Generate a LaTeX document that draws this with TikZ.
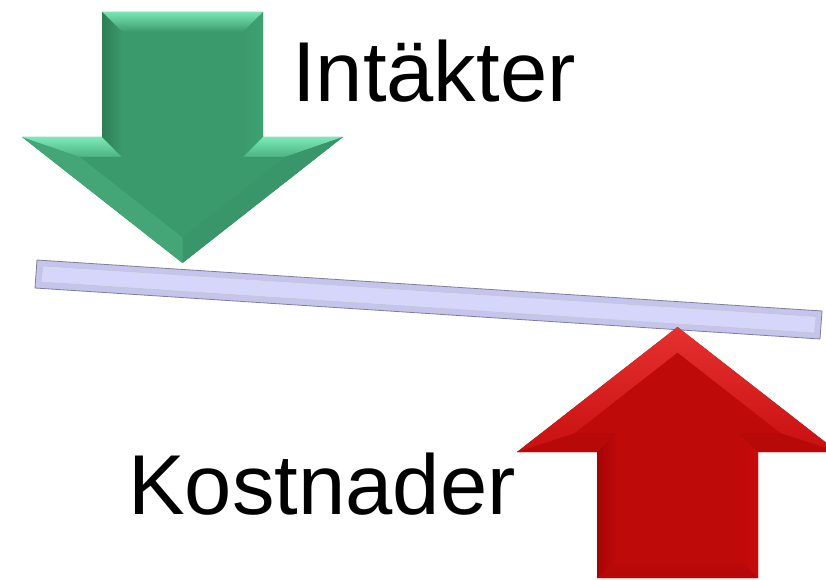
\documentclass[tikz,border=0pt]{standalone}
\usepackage{fontspec}
\setmainfont{Liberation Sans}
\definecolor{gmain}{HTML}{3A9A6C}
\definecolor{gtop}{HTML}{7AE6B2}
\definecolor{gright}{HTML}{3EA272}
\definecolor{gledge}{HTML}{7CEAB6}
\definecolor{gledgelow}{HTML}{4CB282}
\definecolor{gdark}{HTML}{38966A}
\definecolor{gslant}{HTML}{44A576}
\definecolor{gleft}{HTML}{2E7E56}
\definecolor{rmain}{HTML}{BF0A0A}
\definecolor{rbottom}{HTML}{B40808}
\definecolor{rleft}{HTML}{A60404}
\definecolor{runder}{HTML}{B80909}
\definecolor{rlight}{HTML}{E63030}
\definecolor{rlightlow}{HTML}{C81010}
\definecolor{rright}{HTML}{C60B0B}
\definecolor{barfill}{HTML}{D6D6FA}
\definecolor{baredge}{HTML}{C4C4EC}
\definecolor{barline}{HTML}{7E7E98}
\tikzset{
  label text/.style={inner sep=0pt, anchor=base west, font=\fontsize{85}{100}\selectfont}
}
\begin{document}
\begin{tikzpicture}[x=1pt,y=-1pt]
\useasboundingbox (0,0) rectangle (826,580);
\clip (0,0) rectangle (826,580);

% beam
\fill[baredge, draw=barline, line width=0.8pt] (37,260) -- (822,311) -- (820,339) -- (35,288) -- cycle;
\fill[barfill] (43,266) -- (816,316.5) -- (814.5,333) -- (41,282) -- cycle;
\draw[barline!45, line width=0.5pt] (43,266) -- (816,316.5) -- (814.5,333) -- (41,282) -- cycle;

% green arrow (down), bevelled
\fill[gmain] (102,12) -- (263,12) -- (263,137) -- (343,137) -- (182.5,263) -- (22,137) -- (102,137) -- cycle;
\shade[top color=gtop, bottom color=gmain] (102,12) -- (263,12) -- (243,32) -- (122,32) -- cycle;
\shade[left color=gmain, right color=gright] (263,12) -- (263,137) -- (243,157) -- (243,32) -- cycle;
\shade[top color=gledge, bottom color=gledgelow] (263,137) -- (343,137) -- (285,157) -- (243,157) -- cycle;
\fill[gdark]  (343,137) -- (182.5,263) -- (182.5,237.2) -- (285,157) -- cycle;
\fill[gslant] (182.5,263) -- (22,137) -- (80,157) -- (182.5,237.2) -- cycle;
\shade[top color=gledge, bottom color=gledgelow] (22,137) -- (102,137) -- (122,157) -- (80,157) -- cycle;
\shade[left color=gleft, right color=gmain] (102,137) -- (102,12) -- (122,32) -- (122,157) -- cycle;
\fill[gmain] (122,32) -- (243,32) -- (243,157) -- (285,157) -- (182.5,237.2) -- (80,157) -- (122,157) -- cycle;

% red arrow (up), bevelled
\fill[rmain] (758,578) -- (597,578) -- (597,452) -- (517,452) -- (677.5,327) -- (838,452) -- (758,452) -- cycle;
\shade[top color=rmain, bottom color=rbottom] (758,578) -- (597,578) -- (617,558) -- (738,558) -- cycle;
\shade[left color=rleft, right color=rmain] (597,578) -- (597,452) -- (617,433) -- (617,558) -- cycle;
\fill[runder] (597,452) -- (517,452) -- (575,433) -- (617,433) -- cycle;
\shade[top color=rlight, bottom color=rlightlow] (517,452) -- (677.5,327) -- (677.5,352.8) -- (575,433) -- cycle;
\shade[top color=rlight, bottom color=rlightlow] (677.5,327) -- (838,452) -- (780,433) -- (677.5,352.8) -- cycle;
\fill[runder] (838,452) -- (758,452) -- (738,433) -- (780,433) -- cycle;
\shade[left color=rmain, right color=rright] (758,452) -- (758,578) -- (738,558) -- (738,433) -- cycle;
\fill[rmain] (738,558) -- (617,558) -- (617,433) -- (575,433) -- (677.5,352.8) -- (780,433) -- (738,433) -- cycle;

% labels
\node[label text] (income) at (292,102) {Intäkter};
\node[label text] (costs) at (128,514) {Kostnader};
\end{tikzpicture}
\end{document}
